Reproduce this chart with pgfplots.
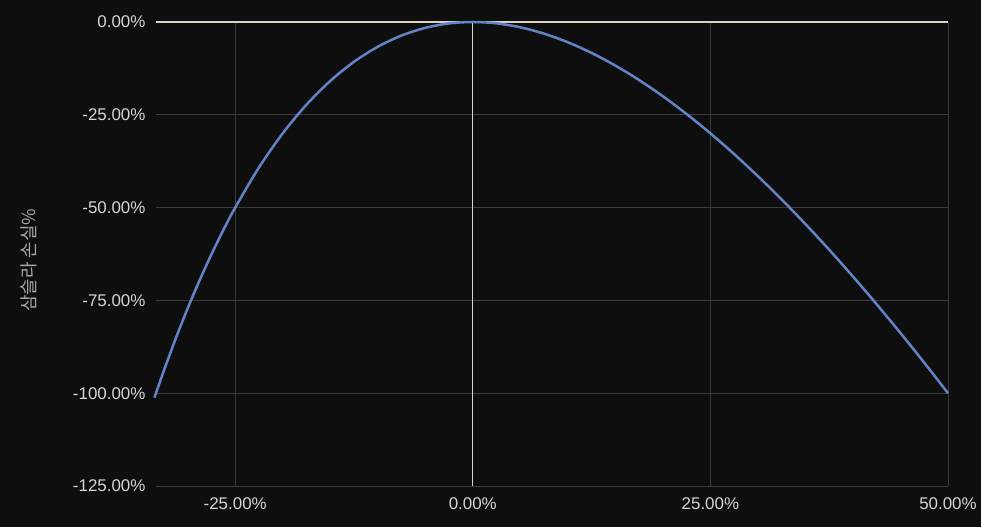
\documentclass[border=0pt]{standalone}
\usepackage{pgfplots}
\pgfplotsset{compat=1.18}
\usepackage{fontspec}
\setmainfont{Liberation Sans}
\newfontfamily\kr{Noto Sans CJK KR}
\definecolor{bg}{HTML}{0E0E0E}
\definecolor{grid}{HTML}{3A3A3A}
\definecolor{zero}{HTML}{D8D4C0}
\definecolor{tick}{HTML}{D6D6D6}
\definecolor{lab}{HTML}{A8A8A8}
\definecolor{curve}{HTML}{6184C6}
\begin{document}
\begin{tikzpicture}
\fill[bg] (-156bp,-41bp) rectangle (825bp,486bp);
\begin{axis}[
  at={(0,0)}, anchor=south west,
  scale only axis, width=792bp, height=464bp,
  xmin=-33.3333, xmax=50, ymin=-125, ymax=0,
  axis line style={draw=none},
  major tick length=0pt,
  xtick={-25,0,25,50},
  xticklabels={-25.00\%,0.00\%,25.00\%,50.00\%},
  ytick={-125,-100,-75,-50,-25,0},
  yticklabels={-125.00\%,-100.00\%,-75.00\%,-50.00\%,-25.00\%,0.00\%},
  grid=major,
  major grid style={draw=grid, line width=1bp},
  ticklabel style={text=tick, font=\fontsize{17}{19}\selectfont},
  xticklabel style={yshift=-8bp},
  yticklabel style={xshift=-7bp},
  ylabel={\kr 삼슬라 손실\%},
  every axis y label/.style={at={(rel axis cs:0,0.5)}, xshift=-127bp, yshift=-6bp, rotate=90, anchor=center, text=lab, font=\fontsize{18}{20}\selectfont},
  clip=false,
]
\draw[zero, line width=1.2bp] (axis cs:-33.3333,0) -- (axis cs:50,0);
\draw[zero, line width=1.2bp] (axis cs:0,-125) -- (axis cs:0,0);
\addplot[curve, line width=2.5bp, smooth, tension=0.5] coordinates {
(-33.5,-101.20) (-32.5,-93.89) (-31.25,-85.23) (-30,-77.14) (-28.75,-69.61)
(-27.5,-62.59) (-26.25,-56.06) (-25,-50.00) (-22.5,-39.19) (-20,-30.00)
(-17.5,-22.27) (-15,-15.88) (-12.5,-10.71) (-10,-6.667) (-7.5,-3.649)
(-5,-1.579) (-2.5,-0.385) (0,0) (2.5,-0.366) (5,-1.429) (7.5,-3.140)
(10,-5.455) (12.5,-8.333) (15,-11.74) (17.5,-15.64) (20,-20.00)
(22.5,-24.80) (25,-30.00) (27.5,-35.59) (30,-41.54) (32.5,-47.83)
(35,-54.44) (37.5,-61.36) (40,-68.57) (42.5,-76.05) (45,-83.79)
(47.5,-91.78) (50,-100.00)
};
\end{axis}
\pgfresetboundingbox
\path[use as bounding box] (-156bp,-41bp) rectangle (825bp,486bp);
\end{tikzpicture}
\end{document}
